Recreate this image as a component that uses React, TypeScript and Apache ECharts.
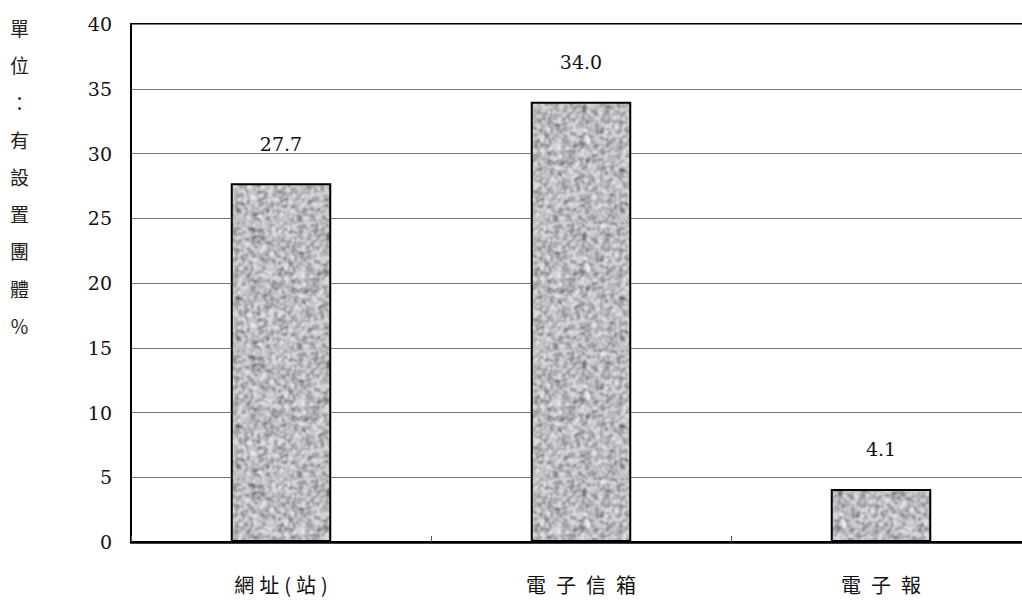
import React, { useEffect, useRef } from "react";
import * as echarts from "echarts";

const categories = ["網址（站）", "電子信箱", "電子報"];
const values = [27.7, 34.0, 4.1];
const yTicks = [0, 5, 10, 15, 20, 25, 30, 35, 40];
const yAxisTitleChars = ["單", "位", "：", "有", "設", "置", "團", "體", "％"];

const SERIF = "DejaVu Serif";

function hash(x: number, y: number): number {
  let h = Math.imul(x, 0x27d4eb2d) ^ Math.imul(y + 7919, 0x165667b1);
  h = Math.imul(h ^ (h >>> 15), 0x85ebca6b);
  h = Math.imul(h ^ (h >>> 13), 0xc2b2ae35);
  h = h ^ (h >>> 16);
  return (h >>> 0) / 4294967295;
}

function makeTexture(): string {
  const N = 128;
  let a = new Float32Array(N * N);
  for (let y = 0; y < N; y++)
    for (let x = 0; x < N; x++) a[y * N + x] = hash(x >> 1, y >> 1) * 0.6 + hash(x + 1000, y + 2000) * 0.4;
  for (let pass = 0; pass < 2; pass++) {
    const b = new Float32Array(N * N);
    for (let y = 0; y < N; y++)
      for (let x = 0; x < N; x++) {
        let s = 0;
        for (let dy = -1; dy <= 1; dy++)
          for (let dx = -1; dx <= 1; dx++) s += a[((y + dy + N) % N) * N + ((x + dx + N) % N)];
        b[y * N + x] = s / 9;
      }
    a = b;
  }
  let mn = 1, mx = 0;
  for (let i = 0; i < a.length; i++) { mn = Math.min(mn, a[i]); mx = Math.max(mx, a[i]); }
  const c = document.createElement("canvas");
  c.width = N; c.height = N;
  const ctx = c.getContext("2d")!;
  const img = ctx.createImageData(N, N);
  for (let i = 0; i < a.length; i++) {
    const t = (a[i] - mn) / (mx - mn);
    const v = Math.round(95 + Math.pow(t, 0.6) * 142);
    img.data[i * 4] = v; img.data[i * 4 + 1] = v; img.data[i * 4 + 2] = Math.min(255, v + 4); img.data[i * 4 + 3] = 255;
  }
  ctx.putImageData(img, 0, 0);
  return c.toDataURL();
}

function spaced(label: string): string {
  if (label.indexOf("（") >= 0) {
    return label.replace("（", "(").replace("）", ")").split("").join("\u2005");
  }
  return label.split("").join("\u2002");
}

export default function App() {
  const ref = useRef<HTMLDivElement>(null);
  useEffect(() => {
    if (!ref.current) return;
    const chart = echarts.init(ref.current, null, { renderer: "svg" });
    const tex = makeTexture();
    chart.setOption({
      animation: false,
      backgroundColor: "#ffffff",
      grid: { left: 131, right: 9, top: 24, bottom: 60, show: true, borderColor: "#000", borderWidth: 2 },
      xAxis: {
        type: "category",
        data: categories,
        axisLine: { lineStyle: { color: "#000", width: 2.5 } },
        axisTick: { show: true, inside: true, length: 6, lineStyle: { color: "#555", width: 1 } },
        axisLabel: {
          margin: 32,
          fontFamily: "Noto Sans CJK TC",
          fontSize: 20,
          color: "#111",
          formatter: (v: string) => spaced(v),
        },
      },
      yAxis: {
        type: "value",
        min: yTicks[0],
        max: yTicks[yTicks.length - 1],
        interval: 5,
        axisLine: { show: true, lineStyle: { color: "#000", width: 2 } },
        axisTick: { show: false },
        splitLine: { lineStyle: { color: "#777", width: 1 } },
        axisLabel: { margin: 19, fontFamily: SERIF, fontSize: 19, color: "#111" },
      },
      graphic: [
        {
          type: "text",
          left: 10,
          top: 9,
          style: {
            text: yAxisTitleChars.join("\n"),
            font: '19px "Noto Sans CJK TC"',
            lineHeight: 37.2,
            fill: "#222",
            align: "center",
          },
        },
      ],
      series: [
        {
          type: "bar",
          data: values,
          barWidth: "33.5%",
          itemStyle: {
            color: { image: tex, repeat: "repeat" },
            borderColor: "#000",
            borderWidth: 2,
          },
          label: {
            show: true,
            position: "top",
            distance: 30,
            formatter: (p: any) => Number(p.value).toFixed(1),
            fontFamily: SERIF,
            fontSize: 19,
            color: "#111",
          },
        },
      ],
    });
    return () => chart.dispose();
  }, []);
  return (
    <div style={{ position: "fixed", left: 0, top: 0, width: 1022, height: 602, overflow: "hidden", background: "#fff" }}>
      <div ref={ref} style={{ width: 1040, height: 602 }} />
    </div>
  );
}
